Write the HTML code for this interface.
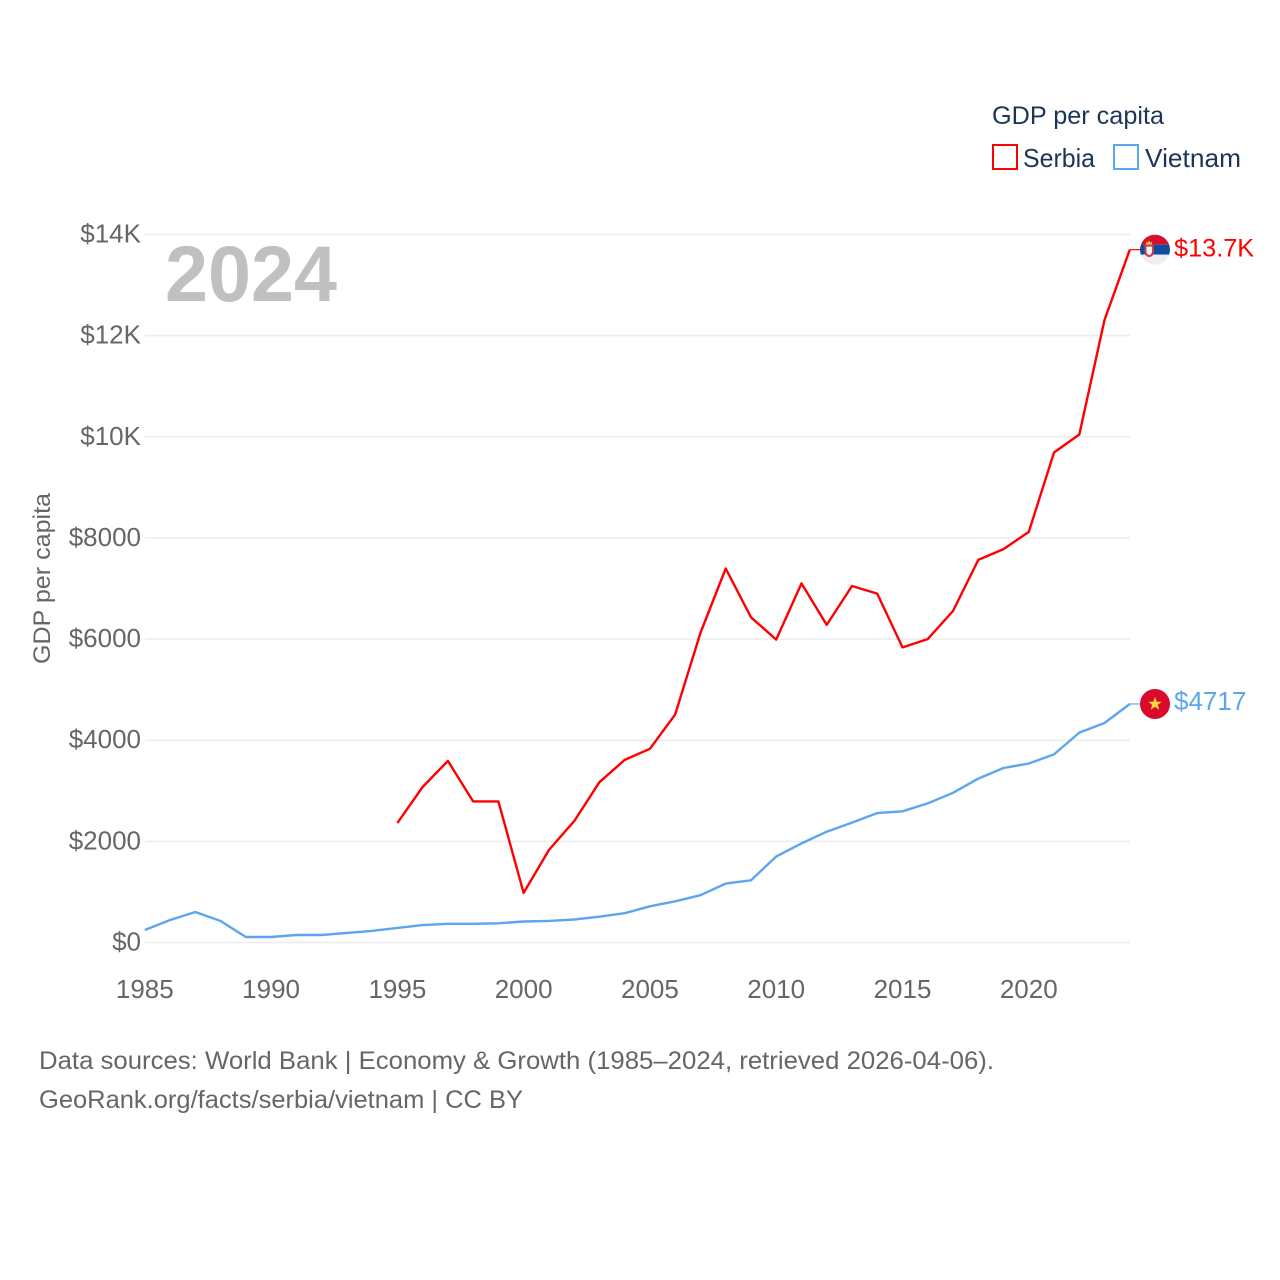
<!DOCTYPE html>
<html><head><meta charset="utf-8"><title>GDP per capita: Serbia vs Vietnam</title>
<style>
html,body{margin:0;padding:0;background:#fff}
svg{display:block}
text{font-family:"Liberation Sans",sans-serif}
</style></head>
<body>
<svg id="chart" xmlns="http://www.w3.org/2000/svg" width="1280" height="1280" viewBox="0 0 1280 1280">
<rect width="1280" height="1280" fill="#fff"/>
<g id="grid"></g>
<g id="yticks"></g>
<g id="xticks"></g>
<text x="165" y="301" font-size="79" font-weight="700" fill="#c0c0c0" textLength="172" lengthAdjust="spacingAndGlyphs">2024</text>
<text transform="translate(50,664) rotate(-90)" font-size="24" fill="#666" textLength="171" lengthAdjust="spacingAndGlyphs">GDP per capita</text>
<g id="series"></g>
<g id="flag-serbia">
<clipPath id="clip-rs"><circle cx="0" cy="0" r="15"/></clipPath>
<g clip-path="url(#clip-rs)">
<rect x="-15" y="-15" width="30" height="10" fill="#d8102f"/>
<rect x="-15" y="-5" width="30" height="10" fill="#0c4da2"/>
<rect x="-15" y="5" width="30" height="10" fill="#eeeeee"/>
<path d="M-9,-5 v-3 l1.500,1.200 l1.500,-2.400 l1.500,2.400 l1.500,-1.200 v3 z" fill="#f3c23c"/>
<path d="M-10.500,-5 h9.500 v7 q0,4.500 -4.750,5.500 q-4.750,-1 -4.750,-5.500 z" fill="#c8404f"/>
<path d="M-8.500,-3 h5.500 v5 q0,2.500 -2.750,3.500 q-2.750,-1 -2.750,-3.500 z" fill="#f7eeee"/>
</g>
</g>
<g id="flag-vietnam">
<circle r="15" fill="#da0a2c"/>
<polygon points="0,-7 1.800,-2.200 6.700,-2.200 2.800,0.900 4.200,5.700 0,2.900 -4.200,5.700 -2.800,0.900 -6.700,-2.200 -1.800,-2.200" fill="#ffd83d"/>
</g>
<text x="992" y="124" font-size="25" fill="#1c3557" textLength="172" lengthAdjust="spacingAndGlyphs">GDP per capita</text>
<rect x="993" y="145" width="24" height="24" fill="#fff" stroke="#ff0000" stroke-width="2"/>
<text x="1023" y="167" font-size="26" fill="#1c3557" textLength="72" lengthAdjust="spacingAndGlyphs">Serbia</text>
<rect x="1114" y="145" width="24" height="24" fill="#fff" stroke="#5ba6ee" stroke-width="2"/>
<text x="1145" y="167" font-size="26" fill="#1c3557" textLength="96" lengthAdjust="spacingAndGlyphs">Vietnam</text>
<text x="39" y="1069" font-size="25" fill="#666" textLength="955" lengthAdjust="spacingAndGlyphs">Data sources: World Bank | Economy &amp; Growth (1985–2024, retrieved 2026-04-06).</text>
<text x="39" y="1108" font-size="25" fill="#666" textLength="484" lengthAdjust="spacingAndGlyphs">GeoRank.org/facts/serbia/vietnam | CC BY</text>
</svg>
<script>
const startYear = 1985;
const endYear = 2024;
const serbiaStartYear = 1995;
const yTickValues = [0, 2000, 4000, 6000, 8000, 10000, 12000, 14000];
const yTickLabels = ["$0", "$2000", "$4000", "$6000", "$8000", "$10K", "$12K", "$14K"];
const xTickYears = [1985, 1990, 1995, 2000, 2005, 2010, 2015, 2020];
const vietnamValues = [247, 445, 603, 425, 109, 109, 148, 148, 190, 230, 288, 345, 370, 370, 380, 415, 427, 455, 510, 580, 715, 815, 935, 1165, 1230, 1700, 1960, 2190, 2370, 2558, 2595, 2750, 2960, 3240, 3450, 3540, 3720, 4150, 4340, 4717];
const serbiaValues = [2365, 3075, 3590, 2790, 2790, 980, 1830, 2400, 3170, 3610, 3830, 4510, 6120, 7395, 6430, 5990, 7100, 6280, 7050, 6900, 5835, 6000, 6555, 7565, 7780, 8120, 9690, 10045, 12310, 13700];
const serbiaEndLabel = "$13.7K";
const vietnamEndLabel = "$4717";

const NS = "http://www.w3.org/2000/svg";
function xScale(year) { return 144.8 + (year - startYear) * (1129.8 - 144.8) / (endYear - startYear); }
function yScale(v) { return 942.5 - v * (942.5 - 234.5) / 14000; }
function make(tag, attrs, parent) {
  const el = document.createElementNS(NS, tag);
  for (const k in attrs) el.setAttribute(k, attrs[k]);
  parent.appendChild(el);
  return el;
}
const grid = document.getElementById("grid");
const yticks = document.getElementById("yticks");
const xticks = document.getElementById("xticks");
const series = document.getElementById("series");

yTickValues.forEach(function (v, i) {
  const line = make("line", { x1: 145, x2: 1130, y1: yScale(v), y2: yScale(v), stroke: "#ececec", "stroke-width": 1.5 }, grid);
  
  
  const t = make("text", { x: 141, y: yScale(v) + 8, "text-anchor": "end", "font-size": 26, fill: "#666" }, yticks);
  
  
  t.textContent = yTickLabels[i];
});
xTickYears.forEach(function (year) {
  const t = make("text", { x: xScale(year), y: 998, "text-anchor": "middle", "font-size": 26, fill: "#666" }, xticks);
  
  
  t.textContent = String(year);
});

function drawSeries(values, firstYear, color, name, endLabel, flagId, labelDy, labelSize) {
  const pts = values.map(function (v, i) { return xScale(firstYear + i).toFixed(1) + "," + yScale(v).toFixed(1); });
  const lastV = values[values.length - 1];
  const lastX = xScale(firstYear + values.length - 1);
  const lastY = yScale(lastV);
  const line = make("polyline", { points: pts.join(" "), fill: "none", stroke: color, "stroke-width": 2.4, "stroke-linejoin": "round" }, series);
  
  
  const conn = make("line", { x1: lastX, x2: lastX + 12, y1: lastY, y2: lastY, stroke: color, "stroke-width": 1.2 }, series);
  
  
  document.getElementById(flagId).setAttribute("transform", "translate(" + (lastX + 25.2) + "," + lastY + ")");
  const t = make("text", { x: lastX + 44.2, y: lastY + labelDy, "font-size": labelSize, fill: color }, series);
  
  
  t.textContent = endLabel;
}
drawSeries(vietnamValues, startYear, "#5ba6ee", "vietnam", vietnamEndLabel, "flag-vietnam", 6, 26);
drawSeries(serbiaValues, serbiaStartYear, "#ff0000", "serbia", serbiaEndLabel, "flag-serbia", 7, 25.3);
</script>
</body></html>
